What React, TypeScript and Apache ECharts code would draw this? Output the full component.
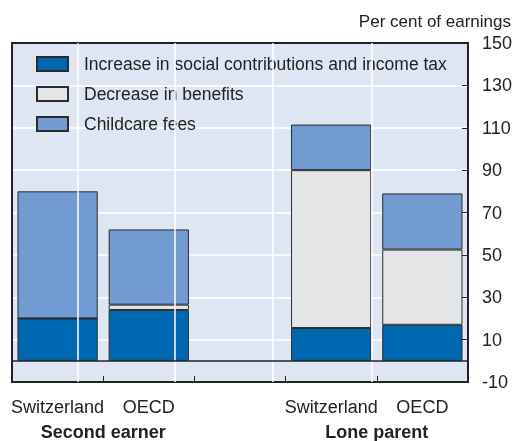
import React, { useEffect, useRef } from "react";
import * as echarts from "echarts";

const categories = ["Switzerland", "OECD", "", "Switzerland", "OECD"];
const groups = ["Second earner", "Lone parent"];
const taxIncrease = [20, 24, null, 15.5, 17];
const benefitDecrease = [0, 2.5, null, 74.5, 35.5];
const childcareFees = [60, 35.5, null, 21.5, 26.5];
const seriesNames = [
  "Increase in social contributions and income tax",
  "Decrease in benefits",
  "Childcare fees",
];
const yTicks = { min: -10, max: 150, interval: 20 };
const unitLabel = "Per cent of earnings";

const FONT = "'Liberation Sans Narrow', 'Arial Narrow', 'Liberation Sans', sans-serif";
const vGridPositions = [0.722, 1.794, 2.856, 3.939];

export default function App() {
  const ref = useRef<HTMLDivElement>(null);
  useEffect(() => {
    if (!ref.current) return;
    const chart = echarts.init(ref.current, null, { renderer: "svg" });
    const border = { borderColor: "#2b2b2b", borderWidth: 1 };
    chart.setOption({
      animation: false,
      textStyle: { fontFamily: FONT },
      title: {
        text: unitLabel,
        right: 4,
        top: 13,
        padding: 0,
        textStyle: { fontFamily: FONT, fontSize: 17, fontWeight: "normal", color: "#222" },
      },
      grid: {
        left: 12,
        right: 46,
        top: 43,
        bottom: 57,
        show: true,
        backgroundColor: "#dfe6f3",
        borderColor: "#222",
        borderWidth: 0,
      },
      legend: {
        left: 36,
        top: 55,
        padding: 0,
        orient: "vertical",
        itemWidth: 31,
        itemHeight: 14,
        itemGap: 12,
        icon: "rect",
        textStyle: { fontFamily: FONT, fontSize: 17.5, color: "#222", padding: [0, 0, 0, 11] },
        data: seriesNames,
      },
      xAxis: [
        {
          type: "category",
          data: categories,
          position: "bottom",
          axisLine: { show: true, onZero: false, lineStyle: { color: "#222", width: 2 } },
          axisTick: { show: true, inside: true, length: 6, interval: 0, lineStyle: { color: "#222" } },
          axisLabel: { interval: 0, margin: 16, fontFamily: FONT, fontSize: 18, color: "#222" },
          splitLine: { show: false },
        },
        {
          type: "value",
          min: 0,
          max: 5,
          interval: 1,
          position: "bottom",
          axisLine: { show: false, onZero: false },
          axisTick: { show: false },
          splitLine: { show: false },
          axisLabel: {
            margin: 41,
            fontFamily: FONT,
            fontSize: 18,
            fontWeight: "bold",
            color: "#222",
            showMinLabel: true,
            showMaxLabel: true,
            formatter: (v: number) => (v === 1 ? groups[0] : v === 4 ? groups[1] : ""),
          },
        },
        {
          type: "category",
          data: categories,
          position: "top",
          axisLine: { show: true, onZero: false, lineStyle: { color: "#222", width: 2 } },
          axisTick: { show: false },
          axisLabel: { show: false },
          splitLine: { show: false },
        },
      ],
      yAxis: [
        {
          type: "value",
          position: "right",
          min: yTicks.min,
          max: yTicks.max,
          interval: yTicks.interval,
          axisLine: { show: true, onZero: false, lineStyle: { color: "#222", width: 2 } },
          axisTick: { show: true, inside: true, length: 6, lineStyle: { color: "#222" } },
          axisLabel: { margin: 14, fontFamily: FONT, fontSize: 18, color: "#222" },
          splitLine: { show: true, lineStyle: { color: "#ffffff", width: 1.5 } },
        },
        {
          type: "value",
          position: "left",
          min: yTicks.min,
          max: yTicks.max,
          interval: yTicks.interval,
          axisLine: { show: true, onZero: false, lineStyle: { color: "#222", width: 2 } },
          axisTick: { show: false },
          axisLabel: { show: false },
          splitLine: { show: false },
        },
      ],
      series: [
        {
          type: "line",
          xAxisIndex: 1,
          data: [],
          silent: true,
          markLine: {
            silent: true,
            symbol: "none",
            label: { show: false },
            lineStyle: { color: "#ffffff", width: 1.5, type: "solid" },
            data: vGridPositions.map((x) => ({ xAxis: x })),
          },
        },
        {
          name: seriesNames[0],
          type: "bar",
          stack: "a",
          barWidth: "88%",
          data: taxIncrease,
          itemStyle: { color: "#0067b1", ...border },
          markLine: {
            silent: true,
            symbol: "none",
            label: { show: false },
            lineStyle: { color: "#222", width: 1.5, type: "solid" },
            data: [{ yAxis: 0 }],
          },
        },
        {
          name: seriesNames[1],
          type: "bar",
          stack: "a",
          barWidth: "88%",
          data: benefitDecrease,
          itemStyle: { color: "#e4e5e7", ...border },
        },
        {
          name: seriesNames[2],
          type: "bar",
          stack: "a",
          barWidth: "88%",
          data: childcareFees,
          itemStyle: { color: "#729bd1", ...border },
        },
      ],
    });
    return () => chart.dispose();
  }, []);
  return (
    <div
      ref={ref}
      style={{ position: "fixed", left: 0, top: 0, width: 515, height: 441 }}
    />
  );
}
